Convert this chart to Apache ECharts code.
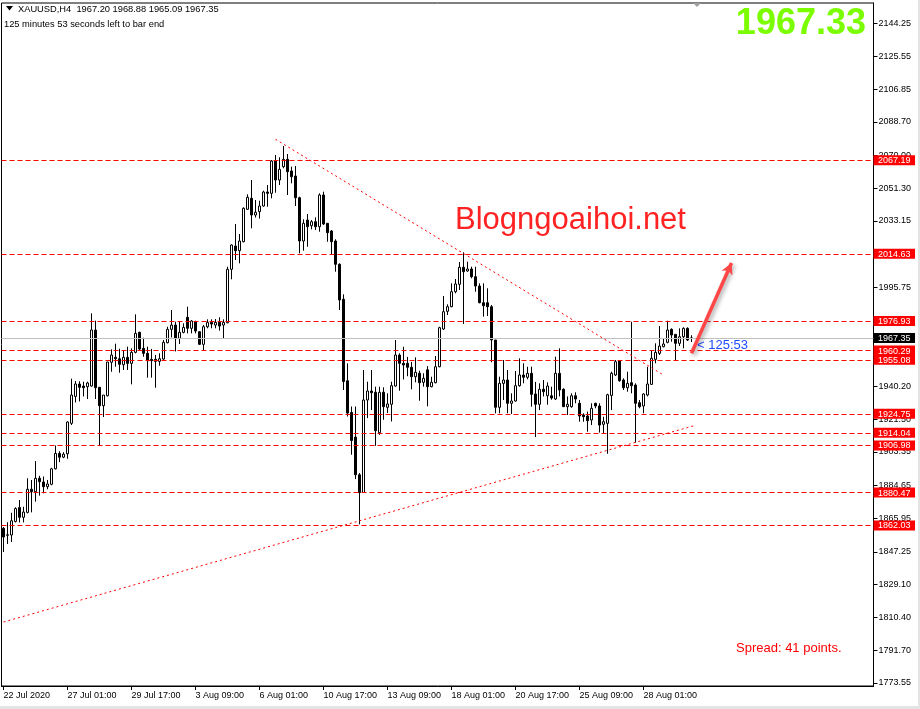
<!DOCTYPE html>
<html>
<head>
<meta charset="utf-8">
<script src="https://cdn.jsdelivr.net/npm/echarts@6/dist/echarts.min.js"></script>
<style>
html,body{margin:0;padding:0;background:#ffffff;}
#chart{width:920px;height:709px;}
</style>
</head>
<body>
<div id="chart"></div>
<script>
// ---- DATA (XAUUSD H4, bars from 22 Jul 2020 09:00) ----
const openPrices = [1860.42,1856.50,1856.66,1864.26,1872.07,1866.60,1869.37,1882.34,1880.99,1888.52,
1886.44,1883.80,1885.15,1893.86,1902.46,1900.38,1902.29,1919.41,1934.51,1941.49,
1940.37,1939.98,1940.37,1971.83,1939.64,1929.30,1934.90,1953.68,1956.47,1955.68,
1952.31,1956.47,1953.10,1959.28,1970.52,1961.54,1958.72,1955.35,1955.35,1954.22,
1955.52,1964.67,1972.20,1974.62,1967.15,1970.52,1978.96,1972.78,1976.49,1970.86,
1963.78,1973.66,1976.13,1974.62,1976.13,1974.62,1975.93,2005.93,2019.02,2016.38,
2021.43,2039.64,2045.81,2036.43,2038.29,2041.49,2049.35,2048.62,2066.77,2056.10,
2063.57,2067.72,2061.15,2058.34,2046.15,2021.83,2033.62,2030.42,2032.67,2029.86,
2047.67,2031.77,2027.44,2021.83,2008.74,1989.07,1943.29,1925.49,1911.67,1890.49,
1880.55,1932.50,1937.56,1936.83,1914.13,1936.83,1928.40,1930.09,1940.37,1957.78,
1953.12,1953.12,1950.88,1945.59,1947.50,1942.44,1949.45,1939.98,1942.22,1951.21,
1972.39,1982.33,1984.92,1993.34,1997.50,2007.05,2004.97,2006.09,2001.77,1996.55,
1987.16,1987.16,1984.92,1966.21,1928.40,1941.87,1943.73,1930.65,1931.94,1940.54,
1946.55,1945.26,1947.50,1935.87,1930.09,1938.52,1934.90,1934.90,1933.05,1947.50,
1938.52,1928.74,1928.74,1934.90,1930.65,1924.08,1923.52,1921.28,1930.65,1929.13,
1918.85,1919.40,1935.07,1946.55,1954.58,1943.73,1939.41,1942.22,1940.93,1930.99,
1929.13,1935.30,1941.30,1955.35,1958.72,1962.44,1964.90,1972.20,1969.39,1964.34,
1968.05,1972.76,1967.20];

const highPrices = [1861.15,1863.81,1869.15,1872.24,1876.32,1872.52,1888.52,1887.57,1898.18,1889.93,
1889.54,1887.57,1894.42,1906.95,1903.75,1903.19,1920.53,1944.46,1943.18,1943.01,
1942.78,1942.78,1981.21,1977.06,1939.64,1935.30,1953.85,1960.98,1964.13,1961.32,
1960.60,1962.47,1961.52,1980.62,1970.86,1967.48,1962.47,1961.18,1957.78,1958.72,
1966.19,1973.66,1983.06,1976.49,1976.49,1975.58,1984.92,1977.44,1977.06,1971.26,
1974.62,1977.82,1977.82,1978.00,1978.96,1977.82,2007.39,2019.97,2031.38,2025.76,
2040.76,2048.06,2056.10,2044.86,2044.47,2050.09,2053.29,2067.33,2070.14,2068.85,
2075.20,2070.70,2063.57,2063.96,2046.71,2034.02,2036.99,2033.62,2035.13,2048.62,
2049.52,2031.77,2028.01,2022.78,2009.30,1991.88,1953.10,1928.86,1928.86,1891.45,
1949.36,1942.78,1949.36,1939.98,1939.98,1939.64,1936.27,1942.78,1966.21,1958.74,
1962.44,1956.73,1953.92,1956.49,1948.96,1947.50,1951.53,1945.59,1957.22,1973.68,
1990.93,1986.27,1998.06,2000.48,2010.03,2015.48,2010.19,2007.39,2007.39,1998.06,
1998.06,1995.25,1985.87,1966.21,1945.59,1954.96,1949.36,1936.27,1948.79,1955.92,
1953.12,1951.21,1951.21,1942.66,1941.87,1943.73,1942.44,1939.98,1956.83,1961.52,
1939.08,1934.51,1936.27,1936.83,1932.50,1925.04,1926.00,1930.65,1930.99,1930.65,
1923.13,1936.02,1948.40,1954.96,1954.96,1944.69,1948.40,1976.45,1941.87,1932.50,
1936.27,1951.21,1960.58,1964.34,1974.05,1967.15,1977.06,1972.76,1969.39,1972.76,
1973.33,1973.33,1968.88];

const lowPrices = [1847.11,1851.62,1852.74,1863.70,1863.70,1863.70,1868.81,1869.37,1875.41,1878.79,
1880.09,1882.34,1884.59,1893.47,1897.57,1899.82,1899.48,1918.45,1931.14,1931.70,
1934.51,1933.05,1939.98,1933.05,1907.22,1922.94,1934.51,1948.40,1951.21,1947.84,
1949.36,1949.36,1941.30,1958.72,1960.60,1956.81,1945.05,1945.05,1939.41,1951.74,
1954.96,1964.34,1967.67,1959.80,1963.96,1969.95,1969.95,1969.95,1969.95,1963.39,
1960.60,1972.78,1972.78,1972.78,1971.49,1967.15,1975.59,2000.31,2011.15,2009.30,
2021.10,2039.24,2028.96,2034.99,2034.42,2041.10,2041.10,2045.81,2048.96,2053.29,
2062.67,2047.67,2054.24,2041.49,2014.92,2016.38,2018.62,2028.40,2028.01,2027.05,
2030.82,2021.43,2013.96,2004.58,1983.06,1938.12,1923.24,1901.73,1888.08,1862.66,
1880.21,1922.34,1926.84,1906.78,1912.89,1921.38,1925.15,1920.43,1939.98,1937.73,
1944.05,1945.86,1938.51,1942.44,1932.10,1939.98,1928.96,1939.64,1941.87,1950.88,
1971.83,1980.26,1984.58,1992.44,1994.30,1975.25,2004.58,2000.87,1993.34,1986.83,
1979.32,1979.71,1953.68,1925.04,1925.04,1932.50,1925.04,1924.64,1931.55,1939.98,
1941.87,1944.13,1928.74,1911.67,1926.84,1934.51,1929.86,1932.66,1932.50,1934.51,
1928.74,1924.08,1928.18,1930.65,1920.30,1920.30,1914.70,1918.45,1927.85,1914.17,
1913.83,1902.28,1926.84,1945.98,1942.78,1938.12,1937.17,1936.27,1908.63,1927.85,
1925.04,1934.51,1940.93,1953.12,1957.78,1962.09,1964.34,1965.23,1954.58,1962.82,
1961.52,1965.65,1965.09];

const closePrices = [1855.53,1856.80,1864.65,1871.51,1866.60,1869.54,1882.34,1880.99,1888.52,1886.61,
1883.80,1885.32,1893.86,1902.46,1900.38,1902.07,1920.14,1935.30,1941.49,1939.64,
1939.41,1942.06,1971.83,1939.41,1929.30,1935.30,1953.85,1957.78,1955.68,1952.54,
1956.47,1953.10,1959.28,1969.95,1961.15,1958.72,1954.56,1954.56,1954.22,1955.68,
1964.90,1972.20,1974.62,1967.15,1970.52,1973.33,1972.78,1976.88,1971.26,1963.78,
1973.66,1976.13,1975.18,1976.13,1974.05,1976.13,2005.93,2019.58,2016.38,2021.83,
2040.20,2046.38,2036.43,2037.95,2041.49,2049.35,2048.62,2066.77,2056.10,2062.11,
2067.72,2060.76,2057.95,2046.15,2021.83,2031.77,2029.86,2032.67,2029.86,2047.67,
2031.38,2026.49,2021.43,2008.74,1988.68,1942.90,1925.15,1909.76,1890.49,1880.55,
1932.50,1937.56,1936.60,1915.26,1936.83,1928.74,1930.26,1940.54,1957.78,1953.12,
1952.16,1950.88,1945.59,1948.07,1942.22,1944.69,1939.98,1942.44,1951.21,1973.12,
1982.11,1984.92,1993.34,1997.67,2007.05,2004.58,2006.09,2001.77,1996.55,1987.16,
1985.48,1984.92,1966.21,1928.40,1941.87,1943.73,1930.65,1931.94,1940.54,1946.55,
1945.26,1947.50,1935.70,1930.09,1938.52,1937.17,1940.37,1933.61,1947.50,1938.12,
1928.74,1930.09,1934.90,1933.05,1923.52,1923.13,1920.88,1927.85,1929.13,1918.45,
1920.30,1935.46,1947.50,1954.02,1943.34,1939.41,1941.87,1940.54,1930.65,1928.74,
1935.87,1941.49,1955.92,1959.28,1962.82,1963.96,1971.81,1969.00,1964.34,1968.05,
1972.76,1966.21,1967.35];

// x tick labels, one every 16 bars
const xTickLabels = ['22 Jul 2020','27 Jul 01:00','29 Jul 17:00','3 Aug 09:00','6 Aug 01:00',
  '10 Aug 17:00','13 Aug 09:00','18 Aug 01:00','20 Aug 17:00','25 Aug 09:00','28 Aug 01:00'];
const xTickEvery = 16;

// right price scale tick values
const yTickValues = [2144.25,2125.55,2106.85,2088.70,2070.00,2051.30,2033.15,1995.75,
  1940.20,1921.50,1903.35,1884.65,1865.95,1847.25,1829.10,1810.40,1791.70,1773.55];

// horizontal levels (red dashed) and current price
const levelPrices = [2067.19,2014.63,1976.93,1960.29,1955.08,1924.75,1914.04,1906.98,1880.47,1862.03];
const currentPrice = 1967.35;
const bidPrice = 1967.33;

// trend lines: [barIndex, price]
const trendDown = [[68, 2078.96],[165, 1946.54]];
const trendUp = [[0, 1807.78],[173, 1918.29]];
const arrowLine = [[172, 1958.74],[182, 2009.47]];

// ---- CHART ----
const slotCount = 218;
const categories = Array.from({length: slotCount}, (_, i) => String(i));
const FONT = 'Liberation Sans';
const yMin = 1771.83, yMax = 2155.54;

const candleData = openPrices.map((o, i) => [o, closePrices[i], lowPrices[i], highPrices[i]]);
const showTick = (i) => i % xTickEvery === 0 && (i / xTickEvery) < xTickLabels.length;

const markData = [];
levelPrices.forEach(v => markData.push({yAxis: v, lineStyle: {color: '#ff0000', width: 1, type: [5, 3]}}));
markData.push({yAxis: currentPrice, lineStyle: {color: '#c0c0c0', width: 1, type: 'solid'}});
markData.push([
  {coord: trendDown[0], lineStyle: {color: '#ff0000', width: 1, type: [2, 3]}},
  {coord: trendDown[1]}
]);
markData.push([
  {coord: trendUp[0], lineStyle: {color: '#ff0000', width: 1, type: [2, 3]}},
  {coord: trendUp[1]}
]);
markData.push([
  {coord: arrowLine[0], symbol: 'none',
   lineStyle: {color: '#ff4646', width: 3.5, type: 'solid', shadowBlur: 4, shadowColor: 'rgba(0,0,0,0.35)', shadowOffsetX: 2, shadowOffsetY: 2}},
  {coord: arrowLine[1], symbol: 'arrow', symbolSize: [9, 11]}
]);

const header1 = 'XAUUSD,H4  ' + [openPrices, highPrices, lowPrices, closePrices]
  .map(a => a[a.length - 1].toFixed(2)).join(' ');

const option = {
  animation: false,
  backgroundColor: '#ffffff',
  grid: {left: 1.5, right: 46.5, top: 3, bottom: 23, show: true, borderColor: '#000', borderWidth: 1,
         backgroundColor: '#ffffff', containLabel: false, outerBoundsMode: 'none'},
  xAxis: {
    type: 'category', data: categories, boundaryGap: true,
    axisLine: {show: true, lineStyle: {color: '#000', width: 1}},
    axisTick: {show: true, alignWithLabel: true, interval: showTick, length: 4, lineStyle: {color: '#000'}},
    axisLabel: {interval: showTick, formatter: (v, i) => xTickLabels[Math.round(i / xTickEvery)] || '',
      align: 'left', margin: 4, fontFamily: FONT, fontSize: 9, lineHeight: 11, color: '#000'},
    splitLine: {show: false}
  },
  yAxis: [{
    type: 'value', position: 'right', min: yMin, max: yMax,
    axisLine: {show: true, lineStyle: {color: '#000', width: 1}},
    axisTick: {show: true, customValues: yTickValues, length: 4, lineStyle: {color: '#000'}},
    axisLabel: {customValues: yTickValues, formatter: v => Number(v).toFixed(2), margin: 5,
      fontFamily: FONT, fontSize: 9, color: '#000'},
    splitLine: {show: false}
  }, {
    type: 'value', position: 'right', min: yMin, max: yMax, z: 5,
    axisLine: {show: false}, axisTick: {show: false}, splitLine: {show: false},
    axisLabel: {
      customValues: levelPrices.concat([currentPrice]),
      formatter: v => (Math.abs(v - currentPrice) < 0.001 ? '{k|' : '{r|') + Number(v).toFixed(2) + '}',
      margin: 0,
      rich: {
        r: {backgroundColor: '#ff0000', color: '#ffffff', fontFamily: FONT, fontSize: 9, lineHeight: 9, padding: [1, 4.5, 0, 4.5]},
        k: {backgroundColor: '#000000', color: '#ffffff', fontFamily: FONT, fontSize: 9, lineHeight: 9, padding: [1, 4.5, 0, 4.5]}
      }
    }
  }],
  series: [{
    type: 'candlestick',
    data: candleData,
    barWidth: 2,
    itemStyle: {color: '#ffffff', color0: '#000000', borderColor: '#000000', borderColor0: '#000000',
                borderColorDoji: '#000000', borderWidth: 1},
    emphasis: {disabled: true},
    markLine: {
      silent: true, symbol: 'none', animation: false,
      label: {show: false},
      emphasis: {disabled: true},
      data: markData
    }
  }],
  graphic: [
    {type: 'polygon', shape: {points: [[6, 6], [13, 6], [9.5, 10.5]]}, style: {fill: '#000'}},
    {type: 'text', x: 18, y: 9, style: {text: header1, fontFamily: FONT, fontSize: 9.3, fill: '#000', verticalAlign: 'middle'}},
    {type: 'text', x: 4, y: 24, style: {text: '125 minutes 53 seconds left to bar end', fontFamily: FONT, fontSize: 9.3, fill: '#000', verticalAlign: 'middle'}},
    {type: 'polygon', shape: {points: [[693, 3], [701, 3], [697, 7]]}, style: {fill: '#a0a0a0'}},
    {type: 'text', x: 866, y: 24, style: {text: bidPrice.toFixed(2), fontFamily: FONT, fontWeight: 'bold', fontSize: 36, fill: '#7cfc00', align: 'right', verticalAlign: 'middle'}},
    {type: 'text', x: 455, y: 220, style: {text: 'Blogngoaihoi.net', fontFamily: FONT, fontSize: 31, fill: '#ff2222', verticalAlign: 'middle'}},
    {type: 'text', x: 697, y: 345, style: {text: '< 125:53', fontFamily: FONT, fontSize: 13, fill: '#1e4bff', verticalAlign: 'middle'}},
    {type: 'text', x: 736, y: 648, style: {text: 'Spread: 41 points.', fontFamily: FONT, fontSize: 13, fill: '#ff0000', verticalAlign: 'middle'}},
    {type: 'rect', shape: {x: 0, y: 706, width: 920, height: 3}, style: {fill: '#e4e4e4'}},
    {type: 'rect', shape: {x: 918, y: 0, width: 2, height: 709}, style: {fill: '#e4e4e4'}}
  ]
};

const chart = echarts.init(document.getElementById('chart'), null, {renderer: 'canvas'});
chart.setOption(option);
</script>
</body>
</html>
